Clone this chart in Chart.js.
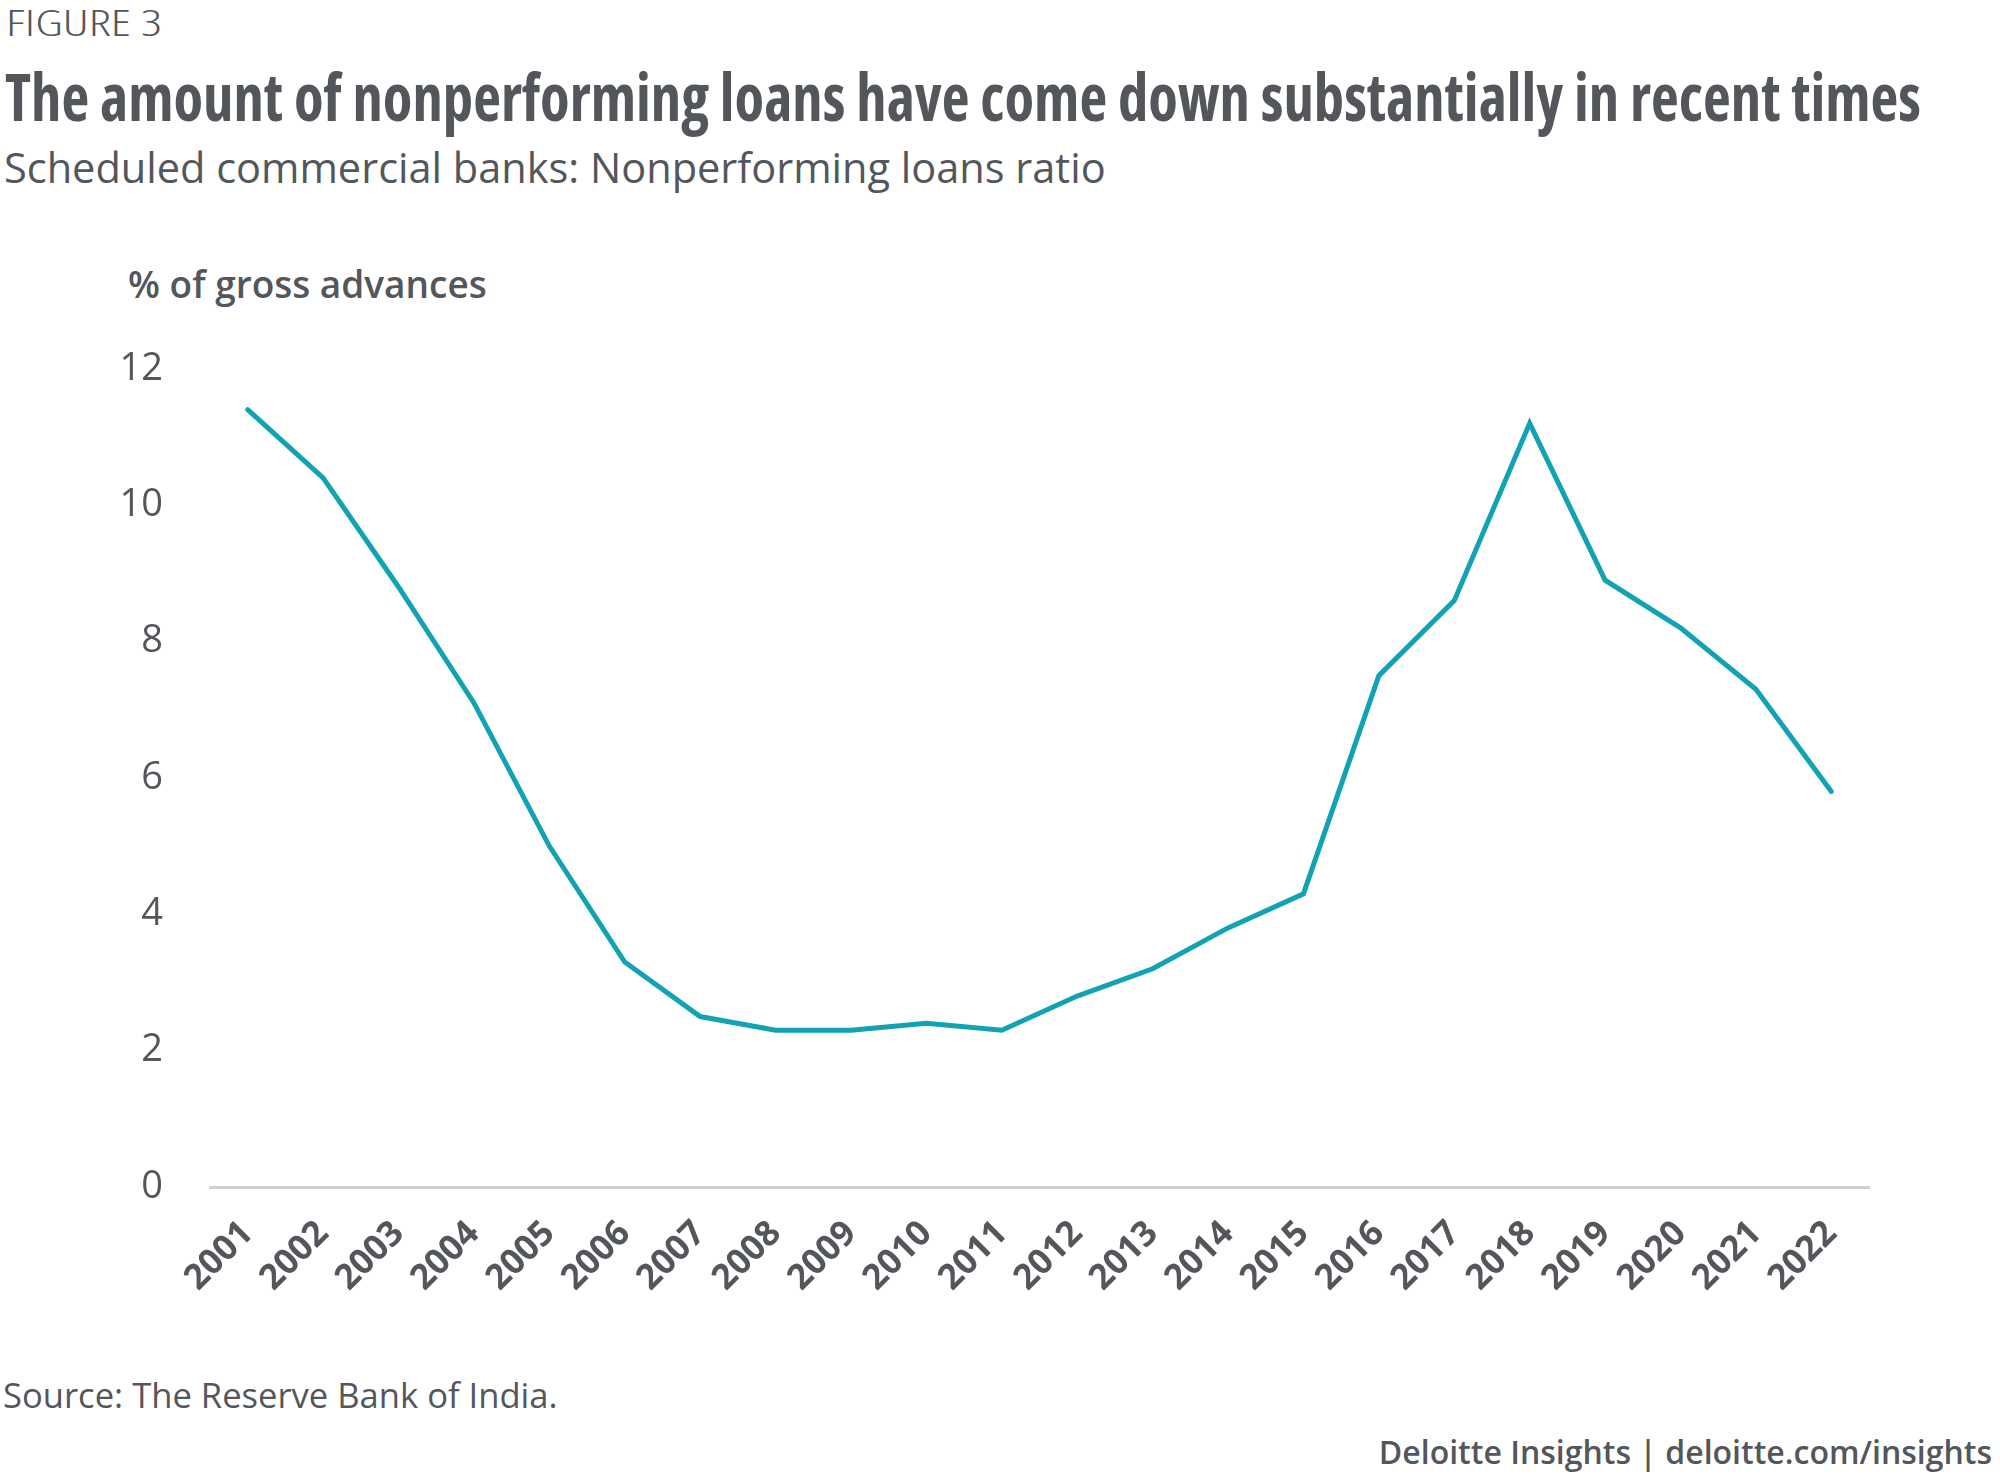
<!DOCTYPE html>
<html lang="en">
<head>
    <meta charset="UTF-8">
    <title>Nonperforming loans ratio</title>
    <script src="https://cdn.jsdelivr.net/npm/chart.js"></script>
    <style>
        body {
            margin: 0;
            width: 2000px;
            height: 1482px;
            background: #fff;
            font-family: 'Open Sans', sans-serif;
            color: #53565a;
            position: relative;
            overflow: hidden;
        }
        .txt { position: absolute; white-space: nowrap; }
        .fit { transform-origin: 0 0; font-stretch: 75%; }
        #fig { left: 6px; top: -4px; font-size: 37px; font-weight: 300; }
        #title { left: 5px; top: 50px; font-size: 66px; font-weight: bold; }
        #sub { left: 4px; top: 139px; font-size: 41.5px; }
        #unit { left: 128px; top: 258px; font-size: 37px; font-weight: 600; }
        #source { left: 3px; top: 1371px; font-size: 34.6px; }
        #brand { right: 8px; top: 1430px; font-size: 32px; font-weight: 600; }
        #wrap { position: absolute; left: 0; top: 299px; width: 2000px; height: 1051px; }
    </style>
</head>
<body>
    <div class="txt fit" id="fig" data-w="156">FIGURE 3</div>
    <div class="txt fit" id="title" data-w="1916">The amount of nonperforming loans have come down substantially in recent times</div>
    <div class="txt" id="sub">Scheduled commercial banks: Nonperforming loans ratio</div>
    <div class="txt" id="unit">% of gross advances</div>
    <div id="wrap"><canvas id="npl"></canvas></div>
    <div class="txt" id="source">Source: The Reserve Bank of India.</div>
    <div class="txt" id="brand">Deloitte Insights | deloitte.com/insights</div>
    <script>
        // years and NPL ratio (% of gross advances)
        const years = ['2001', '2002', '2003', '2004', '2005', '2006', '2007', '2008', '2009', '2010', '2011',
                       '2012', '2013', '2014', '2015', '2016', '2017', '2018', '2019', '2020', '2021', '2022'];
        const nplRatio = [11.4, 10.4, 8.8, 7.1, 5.0, 3.3, 2.5, 2.3, 2.3, 2.4, 2.3,
                          2.8, 3.2, 3.8, 4.3, 7.5, 8.6, 11.2, 8.9, 8.2, 7.3, 5.8];
        const yTicks = [0, 2, 4, 6, 8, 10, 12];

        const grey = '#53565a';

        // squeeze the condensed headings to their width in the original
        document.querySelectorAll('.fit').forEach(el => {
            const w = el.getBoundingClientRect().width;
            el.style.transform = 'scaleX(' + (el.dataset.w / w) + ')';
        });

        new Chart(document.getElementById('npl'), {
            type: 'line',
            data: {
                labels: years,
                datasets: [{
                    data: nplRatio,
                    borderColor: '#11a3b4',
                    borderWidth: 5,
                    pointRadius: 0,
                    tension: 0,
                    borderCapStyle: 'round',
                    borderJoinStyle: 'miter'
                }]
            },
            options: {
                responsive: true,
                maintainAspectRatio: false,
                animation: false,
                layout: { padding: { top: 26, right: 131, left: 0, bottom: 0 } },
                plugins: { legend: { display: false }, tooltip: { enabled: false } },
                scales: {
                    x: {
                        offset: true,
                        grid: { display: false, drawTicks: false },
                        border: { display: true, color: '#d0d0ce', width: 3 },
                        ticks: {
                            color: grey,
                            minRotation: 45,
                            maxRotation: 45,
                            padding: 26,
                            font: { family: "'Open Sans', sans-serif", size: 35, weight: 'bold', style: 'condensed' }
                        },
                        afterFit: s => { s.height = 1350 - 1187; }
                    },
                    y: {
                        min: 0,
                        max: 12,
                        afterBuildTicks: s => { s.ticks = yTicks.map(v => ({ value: v })); },
                        grid: { display: false, drawTicks: false },
                        border: { display: false },
                        ticks: {
                            color: grey,
                            padding: 47,
                            font: { family: "'Open Sans', sans-serif", size: 38 }
                        },
                        afterFit: s => { s.width = 210; }
                    }
                }
            }
        });
    </script>
</body>
</html>
